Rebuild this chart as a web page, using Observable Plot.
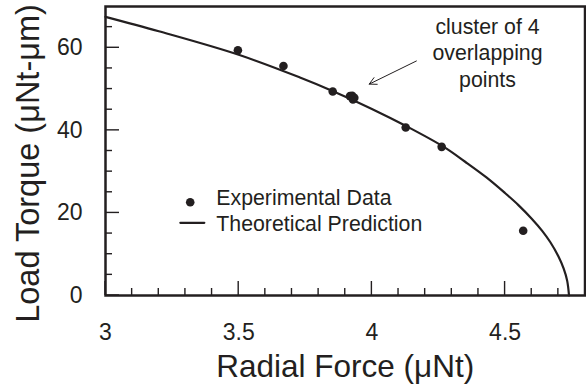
<!DOCTYPE html>
<html><head><meta charset="utf-8">
<script src="https://cdn.jsdelivr.net/npm/d3@7"></script>
<script src="https://cdn.jsdelivr.net/npm/@observablehq/plot@0.6"></script>
<style>html,body{margin:0;padding:0;background:#fff} svg{display:block}</style>
</head><body><div id="chart"></div>
<script>
// Experimental data (radial force µNt, load torque µNt-µm)
const expForce  = [3.497, 3.668, 3.853, 3.918, 3.926, 3.929, 3.934, 4.127, 4.262, 4.568];
const expTorque = [59.4, 55.6, 49.4, 48.3, 48.4, 47.5, 47.9, 40.7, 36.0, 15.7];
// Theoretical prediction
const theoryForce  = [3.0, 3.2, 3.5, 3.73, 3.85, 4.0, 4.13, 4.27, 4.35, 4.43, 4.50, 4.55, 4.60, 4.64, 4.67, 4.70, 4.72, 4.733, 4.740];
const theoryTorque = [67.5, 64.0, 58.3, 52.8, 49.6, 45.2, 41.0, 36.0, 32.4, 28.6, 24.8, 21.9, 18.6, 15.6, 12.9, 9.5, 6.5, 3.6, 0];
// Ticks
const xMajorTicks = [3, 3.5, 4, 4.5];
const xMinorTicks = [3.1, 3.2, 3.3, 3.4, 3.6, 3.7, 3.8, 3.9, 4.1, 4.2, 4.3, 4.4, 4.6, 4.7];
const yMajorTicks = [0, 20, 40, 60];
const yMinorTicks = [5, 10, 15, 25, 30, 35, 45, 50, 55, 65];
// Texts
const xTitle = "Radial Force (\u03BCNt)";
const yTitle = "Load Torque (\u03BCNt-\u03BCm)";
const legendLabels = ["Experimental Data", "Theoretical Prediction"];
const annotationLines = ["cluster of 4", "overlapping", "points"];

const ink = "#231f20";
const font = "'Liberation Sans', Arial, Helvetica, sans-serif";

const W = 586, H = 389, mL = 105, mR = 1.5, mT = 6, mB = 94;
const xDomain = [3, 4.8], yDomain = [0, 70];
// pixel -> data-unit conversion for inward tick sizes
const xPerPx = (xDomain[1] - xDomain[0]) / (W - mL - mR);
const yPerPx = (yDomain[1] - yDomain[0]) / (H - mT - mB);
const minorLen = 7, majorLen = 14, tickW = 1.4;

// inward ticks as thin filled rectangles
const xTickRects = [
  ...xMinorTicks.map(v => ({x1: v - tickW / 2 * xPerPx, x2: v + tickW / 2 * xPerPx, y1: yDomain[0], y2: yDomain[0] + minorLen * yPerPx})),
  ...xMajorTicks.map(v => ({x1: v - tickW / 2 * xPerPx, x2: v + tickW / 2 * xPerPx, y1: yDomain[0], y2: yDomain[0] + majorLen * yPerPx}))
];
const yTickRects = [
  ...yMinorTicks.map(v => ({y1: v - tickW / 2 * yPerPx, y2: v + tickW / 2 * yPerPx, x1: xDomain[0], x2: xDomain[0] + minorLen * xPerPx})),
  ...yMajorTicks.map(v => ({y1: v - tickW / 2 * yPerPx, y2: v + tickW / 2 * yPerPx, x1: xDomain[0], x2: xDomain[0] + majorLen * xPerPx}))
];

const expData = expForce.map((x, i) => ({x, y: expTorque[i]}));
const theoryData = theoryForce.map((x, i) => ({x, y: theoryTorque[i]}));

// legend / annotation anchor positions (data coordinates)
const legendDot = {x: 3.318, y: 22.6};
const legendLine = [{x: 3.281, y: 17.6}, {x: 3.371, y: 17.6}];
const legendText = [{x: 3.416, y: 23.5, t: legendLabels[0]}, {x: 3.416, y: 17.3, t: legendLabels[1]}];
const annot = {x: 4.434, y: 68.0, t: annotationLines.join("\n")};
const arrow = {x1: 4.167, y1: 56.8, x2: 3.990, y2: 51.2};

const chart = Plot.plot({
  width: W, height: H,
  marginLeft: mL, marginRight: mR, marginTop: mT, marginBottom: mB,
  style: {fontFamily: font, color: ink, background: "#fff", fontSize: "23px"},
  x: {domain: xDomain, label: null},
  y: {domain: yDomain, label: null},
  marks: [
    // frame
    Plot.frame({stroke: ink, fill: "none", strokeWidth: 2.5}),
    // inward ticks
    Plot.rect(xTickRects, {x1: "x1", x2: "x2", y1: "y1", y2: "y2", fill: ink}),
    Plot.rect(yTickRects, {x1: "x1", x2: "x2", y1: "y1", y2: "y2", fill: ink}),
    // tick labels
    Plot.axisX(xMajorTicks, {anchor: "bottom", tickSize: 0, tickPadding: 28, fontSize: 23, fill: ink, label: null, tickFormat: d => String(d)}),
    Plot.axisY(yMajorTicks, {anchor: "left", tickSize: 0, tickPadding: 23, fontSize: 23, fill: ink, label: null}),
    // axis titles
    Plot.text([xTitle], {text: d => d, frameAnchor: "bottom", textAnchor: "middle", lineAnchor: "middle", dy: 71.6, fontSize: 31.5, fill: ink}),
    Plot.text([yTitle], {text: d => d, frameAnchor: "left", textAnchor: "middle", lineAnchor: "middle", rotate: -90, dx: -77.2, dy: 12.5, fontSize: 32.5, fill: ink}),
    // theory curve
    Plot.line(theoryData, {x: "x", y: "y", stroke: ink, strokeWidth: 2.2, curve: "catmull-rom"}),
    // experimental points
    Plot.dot(expData, {x: "x", y: "y", r: 4.3, fill: ink, stroke: "none"}),
    // legend
    Plot.dot([legendDot], {x: "x", y: "y", r: 4.3, fill: ink}),
    Plot.line(legendLine, {x: "x", y: "y", stroke: ink, strokeWidth: 2.2}),
    Plot.text(legendText, {x: "x", y: "y", text: "t", textAnchor: "start", fontSize: 21.3, fill: ink}),
    // annotation
    Plot.text([annot], {x: "x", y: "y", text: "t", lineAnchor: "top", lineHeight: 1.25, fontSize: 21.3, fill: ink}),
    Plot.arrow([arrow], {x1: "x1", y1: "y1", x2: "x2", y2: "y2", stroke: ink, strokeWidth: 1, headLength: 12, headAngle: 55})
  ]
});
document.getElementById("chart").append(chart);
</script>
</body></html>
